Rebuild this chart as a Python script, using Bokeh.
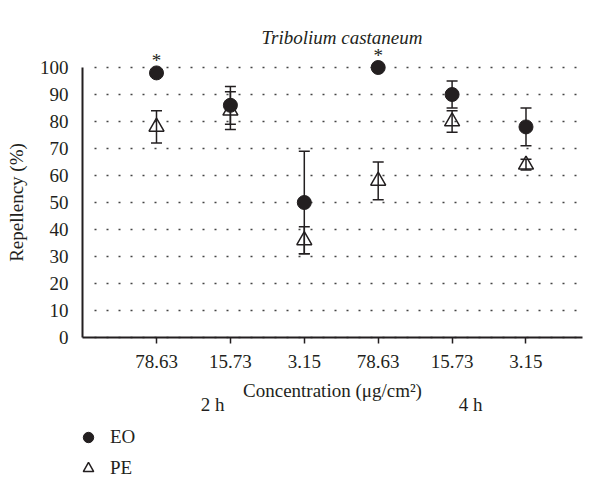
import numpy as np
from bokeh.plotting import figure
from bokeh.models import (Range1d, FixedTicker, Whisker, TeeHead, ColumnDataSource,
                          Label, Legend, LegendItem, Title)
from bokeh.embed import file_html
from bokeh.resources import INLINE
from bokeh.core.properties import value

# ---- data ----
categories = ["78.63", "15.73", "3.15", "78.63", "15.73", "3.15"]
eo = [98, 86, 50, 100, 90, 78]
eo_err = [0, 7, 19, 0, 5, 7]
pe = [78, 84, 36, 58, 80, 64]
pe_err = [6, 7, 5, 7, 4, 2]
significance = ["*", "", "", "*", "", ""]
y_ticks = list(range(0, 101, 10))
group_labels = ["2 h", "4 h"]

INK = "#231f20"
FONT = "Liberation Serif"
FS = "19px"

x = np.arange(len(categories))
eo_a = np.array(eo, dtype=float)
eo_e = np.array(eo_err, dtype=float)
pe_a = np.array(pe, dtype=float)
pe_e = np.array(pe_err, dtype=float)

src = ColumnDataSource(dict(
    x=x, eo=eo_a, eo_up=eo_a + eo_e, eo_lo=eo_a - eo_e,
    pe=pe_a, pe_up=pe_a + pe_e, pe_lo=pe_a - pe_e,
    star_y=eo_a + eo_e + 4.5, star=significance,
))

p = figure(width=594, height=477, output_backend="svg", toolbar_location=None,
           x_range=Range1d(-2.111, 5.927), y_range=Range1d(-51.85, 107.41),
           min_border_left=0, min_border_right=0, min_border_top=47,
           min_border_bottom=0)
p.outline_line_color = None
p.background_fill_color = "white"

p.title = Title(text="Tribolium castaneum", align="left", offset=261,
                text_font=FONT, text_font_style="italic", text_font_size=FS,
                text_color=INK, standoff=0)

# grid
p.xgrid.visible = False
p.ygrid.ticker = FixedTicker(ticks=y_ticks)
p.ygrid.grid_line_color = "#444444"
p.ygrid.grid_line_width = 1.5
p.ygrid.grid_line_dash = "2 10"
if "cross_bounds" in p.ygrid[0].properties():
    p.ygrid.cross_bounds = (-0.84, 5.77)

# axes (fixed inside the frame)
p.xaxis.fixed_location = 0
p.xaxis.bounds = (-1, 5.77)
p.xaxis.ticker = FixedTicker(ticks=list(x))
p.xaxis.major_label_overrides = {int(i): c for i, c in zip(x, categories)}
p.xaxis.minor_tick_line_color = None
p.xaxis.major_tick_in = 0
p.xaxis.major_tick_out = 6
p.xaxis.axis_line_width = 2
p.xaxis.major_tick_line_width = 1.5
p.xaxis.axis_line_color = INK
p.xaxis.major_tick_line_color = INK
p.xaxis.major_label_text_font = FONT
p.xaxis.major_label_text_font_size = FS
p.xaxis.major_label_text_color = INK
p.xaxis.major_label_standoff = 11
p.xaxis.axis_label = "Concentration (\u03bcg/cm\u00b2)"
p.xaxis.axis_label_text_font = FONT
p.xaxis.axis_label_text_font_size = FS
p.xaxis.axis_label_text_font_style = "normal"
p.xaxis.axis_label_text_color = INK
p.xaxis.axis_label_standoff = 9

p.yaxis.fixed_location = -1
p.yaxis.bounds = (0, 100)
p.yaxis.ticker = FixedTicker(ticks=y_ticks)
p.yaxis.minor_tick_line_color = None
p.yaxis.major_tick_in = 0
p.yaxis.major_tick_out = 0
p.yaxis.axis_line_width = 2
p.yaxis.axis_line_color = INK
p.yaxis.major_label_text_font = FONT
p.yaxis.major_label_text_font_size = FS
p.yaxis.major_label_text_color = INK
p.yaxis.major_label_standoff = 14
p.yaxis.axis_label = "Repellency (%)"
p.yaxis.axis_label_text_font = FONT
p.yaxis.axis_label_text_font_size = FS
p.yaxis.axis_label_text_font_style = "normal"
p.yaxis.axis_label_text_color = INK
p.yaxis.axis_label_standoff = 10

# error bars
for up, lo in (("eo_up", "eo_lo"), ("pe_up", "pe_lo")):
    w = Whisker(base="x", upper=up, lower=lo, source=src, dimension="height",
                line_color=INK, line_width=1.5,
                upper_head=TeeHead(size=11, line_color=INK, line_width=1.5),
                lower_head=TeeHead(size=11, line_color=INK, line_width=1.5))
    p.add_layout(w)

r_eo = p.scatter("x", "eo", source=src, marker="circle", size=14,
                 fill_color=INK, line_color=INK)
r_pe = p.scatter("x", "pe", source=src, marker="triangle", size=15,
                 fill_color=None, line_color=INK, line_width=1.5)

p.text("x", "star_y", text="star", source=src, text_font=value(FONT),
       text_font_size=FS, text_color=INK, text_align="center",
       text_baseline="middle")

# group labels (2 h / 4 h)
for gx, txt in zip((0.758, 4.25), group_labels):
    p.add_layout(Label(x=gx, y=-24.8, text=txt, text_font=FONT,
                       text_font_size=FS, text_color=INK,
                       text_align="center", text_baseline="middle"))

legend = Legend(items=[LegendItem(label="EO", renderers=[r_eo]),
                       LegendItem(label="PE", renderers=[r_pe])],
                location=(75, -4), orientation="vertical",
                margin=0, padding=0, spacing=5, glyph_width=26,
                glyph_height=26, label_standoff=9, border_line_color=None,
                background_fill_alpha=0, label_text_font=FONT,
                label_text_font_size=FS, label_text_color=INK,
                label_height=26)
p.add_layout(legend, "center")

open("out.html", "w").write(file_html(p, INLINE))
